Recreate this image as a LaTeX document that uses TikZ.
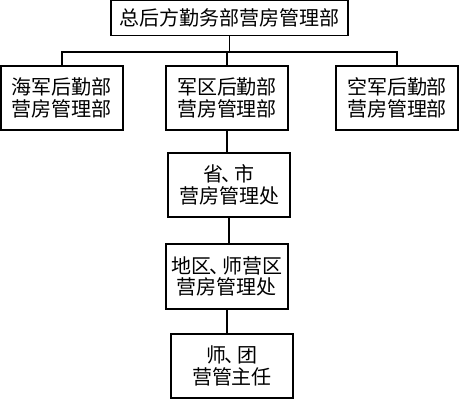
\documentclass[tikz,border=0pt]{standalone}
\usepackage{fontspec}
\newfontfamily\cjk{Noto Sans CJK SC}
\newcommand{\dunhao}{\kern-2pt、\kern-7pt}
\begin{document}
\begin{tikzpicture}[x=1pt,y=-1pt,
  box/.style={draw,line width=1.3pt,inner sep=0pt,align=center,font=\cjk\fontsize{20}{21.5}\selectfont},
  conn/.style={line width=1.3pt}]
\useasboundingbox (0,0) rectangle (459,400);
\node[box,minimum width=237,minimum height=35] (top) at (229.5,18) {总后方勤务部营房管理部};
\node[box,minimum width=122,minimum height=64] (navy) at (62,98) {海军后勤部\\营房管理部};
\node[box,minimum width=122,minimum height=64] (mil) at (227,98) {军区后勤部\\营房管理部};
\node[box,minimum width=122,minimum height=64] (air) at (397,98) {空军后勤部\\营房管理部};
\node[box,minimum width=122,minimum height=64] (prov) at (229,185) {省\dunhao 市\\营房管理处};
\node[box,minimum width=122,minimum height=65] (dist) at (227,276.5) {地区\dunhao 师营区\\营房管理处};
\node[box,minimum width=122,minimum height=64] (reg) at (232,366) {师\dunhao 团\\营管主任};
\coordinate (hy) at (0,52);
\draw[conn] (top.south) -- (top.south |- hy);
\draw[conn] (navy.north) -- (navy.north |- hy) -- (air.north |- hy) -- (air.north);
\draw[conn] (mil.north) -- (mil.north |- hy);
\draw[conn] (mil.south) -- (mil.south |- prov.north);
\draw[conn] (prov.south) -- (prov.south |- dist.north);
\draw[conn] (dist.south) -- (dist.south |- reg.north);
\end{tikzpicture}
\end{document}
